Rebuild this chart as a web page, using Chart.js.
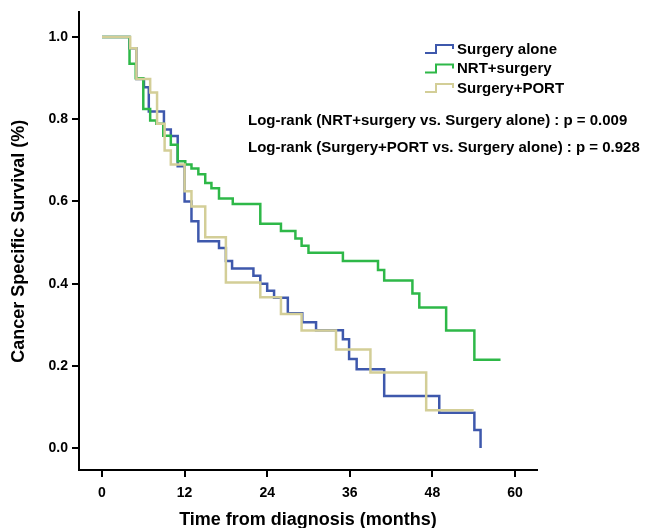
<!DOCTYPE html>
<html>
<head>
<meta charset="utf-8">
<script src="https://cdn.jsdelivr.net/npm/chart.js@4/dist/chart.umd.min.js"></script>
<style>
  html, body { margin: 0; padding: 0; background: #fff; }
  #wrap { width: 646px; height: 528px; }
</style>
</head>
<body>
<div id="wrap"><canvas id="c" width="646" height="528"></canvas></div>
<script>
// ---- data (months, survival proportion) ----
const seriesLabels = ['Surgery alone', 'NRT+surgery', 'Surgery+PORT'];

const surgeryAloneTime = [0, 4.0, 5.0, 6.1, 6.8, 9.0, 10.0, 11.0, 12.0, 13.0, 14.0, 17.0, 18.0, 18.9, 22.0, 23.0, 24.0, 25.0, 27.0, 29.1, 31.1, 35.0, 35.9, 37.0, 41.0, 49.0, 54.1, 55.0];
const surgeryAloneSurv = [1.0, 0.973, 0.898, 0.878, 0.819, 0.775, 0.759, 0.686, 0.600, 0.552, 0.503, 0.487, 0.455, 0.437, 0.419, 0.400, 0.383, 0.366, 0.328, 0.306, 0.287, 0.265, 0.217, 0.192, 0.127, 0.086, 0.044, 0.0];

const nrtSurgeryTime = [0, 4.0, 4.9, 6.0, 7.0, 7.9, 8.9, 10.0, 11.0, 12.1, 13.0, 14.0, 15.0, 15.9, 17.0, 19.0, 23.0, 26.0, 28.1, 29.0, 30.0, 35.0, 40.1, 41.0, 45.1, 46.1, 50.0, 54.1, 57.9];
const nrtSurgerySurv = [1.0, 0.935, 0.900, 0.825, 0.797, 0.789, 0.760, 0.738, 0.698, 0.690, 0.680, 0.666, 0.645, 0.632, 0.607, 0.594, 0.546, 0.528, 0.510, 0.492, 0.475, 0.455, 0.433, 0.408, 0.376, 0.342, 0.286, 0.215, 0.215];

const surgeryPortTime = [0, 4.1, 5.0, 7.0, 8.0, 9.1, 10.0, 12.0, 13.0, 15.0, 18.0, 23.0, 26.0, 29.0, 34.0, 39.0, 47.1, 54.0];
const surgeryPortSurv = [1.0, 0.973, 0.898, 0.865, 0.789, 0.724, 0.690, 0.625, 0.588, 0.513, 0.403, 0.367, 0.326, 0.286, 0.240, 0.184, 0.092, 0.092];

const xTickValues = [0, 12, 24, 36, 48, 60];
const yTickValues = [0, 0.2, 0.4, 0.6, 0.8, 1.0];

const logRankLines = [
  'Log-rank (NRT+surgery vs. Surgery alone) : p = 0.009',
  'Log-rank (Surgery+PORT vs. Surgery alone) : p = 0.928'
];

const colors = ['#3E58AC', '#2EB848', '#D3CE97'];

function pts(t, s) { return t.map((v, i) => ({ x: v, y: s[i] })); }

const FONT = '"Liberation Sans", Arial, Helvetica, sans-serif';

const kmLegend = {
  id: 'kmLegend',
  afterDraw(chart) {
    const ctx = chart.ctx;
    ctx.save();
    chart.data.datasets.forEach((ds, i) => {
      const y = 49 + i * 19.5;
      ctx.strokeStyle = ds.borderColor;
      ctx.lineWidth = 2;
      ctx.beginPath();
      ctx.moveTo(425, y + 4);
      ctx.lineTo(436, y + 4);
      ctx.lineTo(436, y - 4);
      ctx.lineTo(453, y - 4);
      ctx.lineTo(453, y);
      ctx.stroke();
      ctx.fillStyle = '#000';
      ctx.font = 'bold 15px ' + FONT;
      ctx.textBaseline = 'middle';
      ctx.textAlign = 'left';
      ctx.fillText(ds.label, 457, y + 0.5);
    });
    ctx.font = 'bold 15px ' + FONT;
    ctx.fillStyle = '#000';
    ctx.textBaseline = 'middle';
    logRankLines.forEach((txt, i) => {
      ctx.fillText(txt, 248, 121 + i * 27);
    });
    ctx.restore();
  }
};

new Chart(document.getElementById('c'), {
  type: 'line',
  data: {
    datasets: [
      { label: seriesLabels[0], data: pts(surgeryAloneTime, surgeryAloneSurv), borderColor: colors[0], order: 3 },
      { label: seriesLabels[1], data: pts(nrtSurgeryTime, nrtSurgerySurv), borderColor: colors[1], order: 2 },
      { label: seriesLabels[2], data: pts(surgeryPortTime, surgeryPortSurv), borderColor: colors[2], order: 1 }
    ].map(d => Object.assign(d, { stepped: 'before', borderWidth: 2.5, pointRadius: 0, fill: false, tension: 0, backgroundColor: d.borderColor }))
  },
  options: {
    responsive: false,
    animation: false,
    devicePixelRatio: 1,
    layout: { padding: { top: 10, right: 109, left: 0, bottom: 0 } },
    plugins: { legend: { display: false }, tooltip: { enabled: false } },
    scales: {
      x: {
        type: 'linear',
        min: -3.34,
        max: 63.2,
        afterFit(scale) { scale.height = 58; },
        afterBuildTicks(scale) { scale.ticks = xTickValues.map(v => ({ value: v })); },
        border: { display: true, color: '#000', width: 2 },
        grid: { drawOnChartArea: false, drawTicks: true, color: '#000', lineWidth: 2, tickLength: 7 },
        ticks: { color: '#000', font: { family: FONT, size: 14, weight: 'bold' }, padding: 8, maxRotation: 0, autoSkip: false },
        title: { display: true, text: 'Time from diagnosis (months)', color: '#000', font: { family: FONT, size: 18, weight: 'bold', lineHeight: 0.9 }, padding: 0 }
      },
      y: {
        type: 'linear',
        min: -0.0533,
        max: 1.06,
        afterFit(scale) { scale.width = 79; },
        afterBuildTicks(scale) { scale.ticks = yTickValues.map(v => ({ value: v })); },
        border: { display: true, color: '#000', width: 2 },
        grid: { drawOnChartArea: false, drawTicks: true, color: '#000', lineWidth: 2, tickLength: 7 },
        ticks: { color: '#000', font: { family: FONT, size: 14, weight: 'bold' }, padding: 4, callback: v => Number(v).toFixed(1) },
        title: { display: true, text: 'Cancer Specific Survival (%)', color: '#000', font: { family: FONT, size: 18, weight: 'bold', lineHeight: 1.2 }, padding: { top: 8, bottom: 0 } }
      }
    }
  },
  plugins: [kmLegend]
});
</script>
</body>
</html>
